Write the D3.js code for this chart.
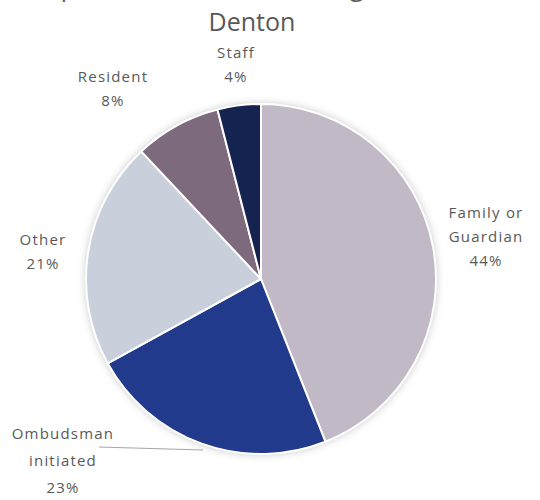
<!DOCTYPE html>
<html>
<head>
<meta charset="utf-8">
<script src="https://cdn.jsdelivr.net/npm/d3@7"></script>
<style>
  html, body { margin: 0; padding: 0; background: #ffffff; }
  svg { display: block; }
  text { font-family: "Open Sans", "Noto Sans", sans-serif; fill: #595959; }
</style>
</head>
<body>
<svg id="chart" width="540" height="500"></svg>
<script>
// Complaint sources, in clockwise order starting at 12 o'clock
const categories = ["Family or Guardian", "Ombudsman initiated", "Other", "Resident", "Staff"];
const values = [44, 23, 21, 8, 4];
const colors = ["#c1b9c6", "#213a8b", "#c9cfdb", "#7e6a7d", "#14234f"];
// Label lines per slice
const labelLines = [["Family or", "Guardian", "44%"], ["Ombudsman", "initiated", "23%"], ["Other", "21%"], ["Resident", "8%"], ["Staff", "4%"]];

const svg = d3.select("#chart");
const cx = 261, cy = 279, r = 175;

// Title (first line runs off the top edge)
svg.append("text").attr("x", 252).attr("y", -4).attr("text-anchor", "middle")
  .attr("font-size", 25).text("Complaint Sources for Nursing Facilities in");
svg.append("text").attr("x", 252).attr("y", 31).attr("text-anchor", "middle")
  .attr("font-size", 25).text("Denton");

const defs = svg.append("defs");
const f = defs.append("filter").attr("id", "halo").attr("x", "-20%").attr("y", "-20%").attr("width", "140%").attr("height", "140%");
f.append("feDropShadow").attr("dx", 0).attr("dy", 0).attr("stdDeviation", 4)
  .attr("flood-color", "#000").attr("flood-opacity", 0.25);

const pie = d3.pie().sort(null).value(d => d)(values);
const arc = d3.arc().innerRadius(0).outerRadius(r);

const g = svg.append("g").attr("transform", `translate(${cx},${cy})`);
g.append("circle").attr("r", r).attr("fill", "#fff").attr("filter", "url(#halo)");
g.selectAll("path").data(pie).join("path")
  .attr("d", arc)
  .attr("fill", (d, i) => colors[i])
  .attr("stroke", "#ffffff")
  .attr("stroke-width", 2)
  .attr("stroke-linejoin", "round");

// Label anchor positions (centre x, first line y) and line spacing
const labelPos = [[486, 213, 24], [63, 434, 27], [43, 240, 24], [113, 77, 24], [236, 53, 24]];

labelLines.forEach((lines, i) => {
  const [lx, ly, lh] = labelPos[i];
  const t = svg.append("text").attr("text-anchor", "middle").attr("font-size", 15)
    .attr("letter-spacing", 1.2);
  lines.forEach((s, j) => {
    t.append("tspan").attr("x", lx).attr("y", ly + j * lh).attr("dy", "0.35em").text(s);
  });
});

// Leader line for the Ombudsman label
svg.append("line").attr("x1", 99).attr("y1", 447).attr("x2", 203).attr("y2", 450)
  .attr("stroke", "#a6a6a6").attr("stroke-width", 1);
</script>
</body>
</html>
